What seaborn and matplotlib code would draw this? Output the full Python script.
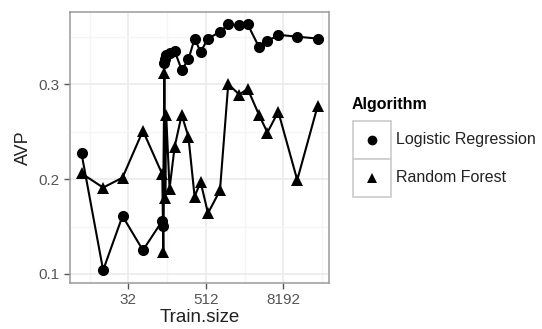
import numpy as np
import pandas as pd
import matplotlib
matplotlib.use("Agg")
import matplotlib.pyplot as plt
from matplotlib.patches import Rectangle
from matplotlib.lines import Line2D
from matplotlib.ticker import NullFormatter
import seaborn as sns

# values
train_size = [6, 13, 26, 54, 108, 112, 116, 120, 124, 140, 168, 216, 275, 343,
              425, 554, 850, 1143, 1697, 2290, 3440, 4640, 6850, 13500, 28000]
lr_avp = [0.227, 0.104, 0.161, 0.125, 0.156, 0.151, 0.322, 0.326, 0.331, 0.333,
          0.335, 0.315, 0.326, 0.348, 0.334, 0.348, 0.355, 0.363, 0.362, 0.363,
          0.339, 0.345, 0.352, 0.350, 0.348]
rf_avp = [0.206, 0.191, 0.2015, 0.251, 0.205, 0.1235, 0.3115, 0.180, 0.2676, 0.190,
          0.234, 0.2676, 0.2447, 0.1815, 0.197, 0.164, 0.188, 0.300, 0.289, 0.295,
          0.2676, 0.249, 0.271, 0.199, 0.277]
algorithms = ["Logistic Regression", "Random Forest"]
x_ticks = [32, 512, 8192]
y_ticks = [0.1, 0.2, 0.3]

df = pd.DataFrame({
    "Train.size": train_size * 2,
    "AVP": lr_avp + rf_avp,
    "Algorithm": [algorithms[0]] * len(lr_avp) + [algorithms[1]] * len(rf_avp),
})

sns.set_theme(style="white")
plt.rcParams['font.family'] = ['Liberation Sans', 'DejaVu Sans']

fig = plt.figure(figsize=(5.42, 3.29), dpi=100)
W, H = 542, 329
ax = fig.add_axes([70 / W, 1 - 283 / H, (329 - 70) / W, (283 - 12) / H])
ax.set_xscale("log", base=2)

markers = {algorithms[0]: "o", algorithms[1]: "^"}
sns.lineplot(data=df, x="Train.size", y="AVP", style="Algorithm", markers=markers,
             dashes=False, color="black", estimator=None, sort=True,
             markersize=8, markeredgewidth=0, linewidth=1.5, legend=False, ax=ax)

# axes look (ggplot theme_bw like)
ax.set_xlim(2 ** 1.99, 2 ** 15.36)
ax.set_ylim(0.0905, 0.376)
ax.set_xticks(x_ticks)
ax.set_xticklabels([str(t) for t in x_ticks])
ax.set_xticks([8, 128, 2048, 32768], minor=True)
ax.xaxis.set_minor_formatter(NullFormatter())
ax.set_yticks(y_ticks)
ax.set_yticklabels([f"{t:.1f}" for t in y_ticks])
ax.set_yticks([0.15, 0.25, 0.35], minor=True)
ax.yaxis.set_minor_formatter(NullFormatter())
ax.grid(True, which="major", color="#EBEBEB", linewidth=1.2)
ax.grid(True, which="minor", color="#F5F5F5", linewidth=1.0)
ax.set_axisbelow(True)
for s in ax.spines.values():
    s.set_color("#9A9A9A")
    s.set_linewidth(1.1)
ax.tick_params(which="major", length=4.5, width=1, color="#555555",
               labelcolor="#555555", labelsize=11, pad=3, direction="out",
               bottom=True, left=True)
ax.tick_params(which="minor", length=0)
ax.set_xlabel("Train.size", fontsize=13.5, color="#222222", labelpad=1)
ax.set_ylabel("AVP", fontsize=13, color="#222222", labelpad=5)

# legend drawn like ggplot keys
fig.text(352 / W, 1 - 104 / H, "Algorithm", fontsize=11.5, fontweight="bold",
         ha="left", va="center", color="black")
key_rows = [(121, 159), (159, 197)]
for (top, bot), alg in zip(key_rows, algorithms):
    fig.add_artist(Rectangle((353 / W, 1 - bot / H), (391 - 353) / W, (bot - top) / H,
                             transform=fig.transFigure, facecolor="white",
                             edgecolor="#CCCCCC", linewidth=1.2))
    cy = 1 - (top + bot) / 2 / H
    fig.add_artist(Line2D([372 / W], [cy], transform=fig.transFigure,
                          marker=markers[alg], markersize=7, color="black",
                          markeredgewidth=0, linestyle="none"))
    fig.text(396 / W, cy, alg, fontsize=11.5, ha="left", va="center", color="#222222")

fig.savefig("out.png", dpi=100)
